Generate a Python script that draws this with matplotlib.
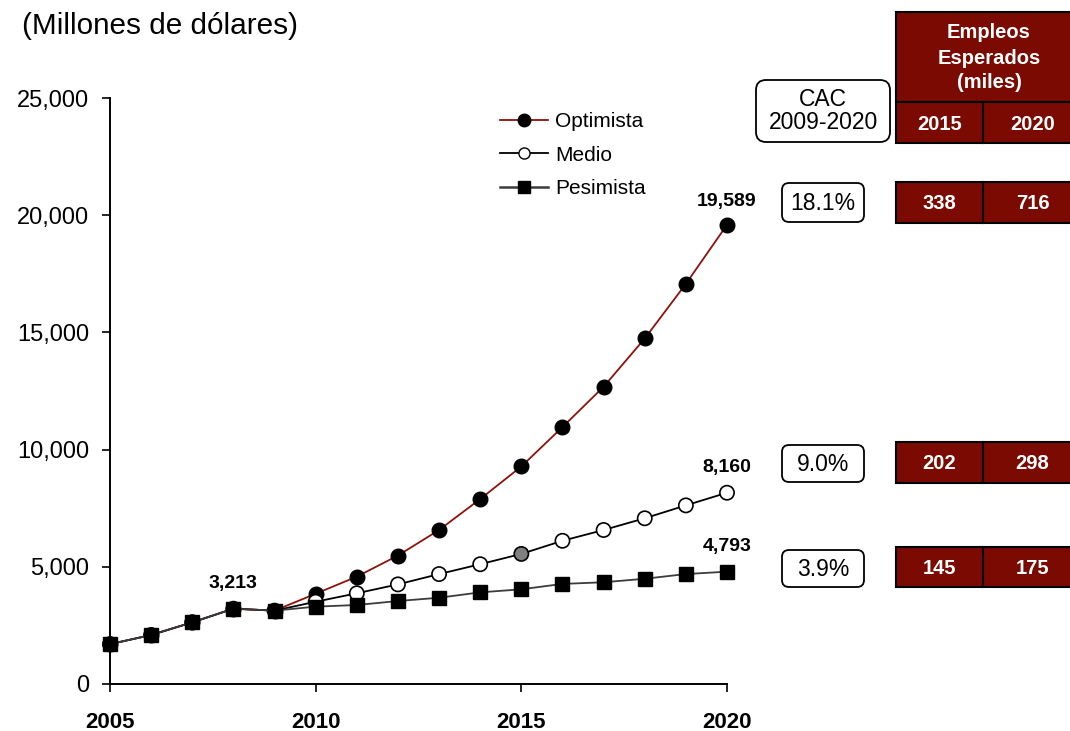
import matplotlib
matplotlib.use("Agg")
import matplotlib.pyplot as plt
from matplotlib.patches import FancyBboxPatch, Rectangle
from matplotlib.lines import Line2D
from matplotlib.transforms import Affine2D
from matplotlib.ticker import FuncFormatter

plt.rcParams['font.family'] = ['Liberation Sans', 'DejaVu Sans']

# --- data -------------------------------------------------------------
years = list(range(2005, 2021))
historico = [1700, 2090, 2630, 3213, 3130]          # 2005-2009, shared by all scenarios
optimista = [3850, 4580, 5480, 6570, 7890, 9280, 10960, 12680, 14740, 17070, 19589]
medio = [3510, 3870, 4250, 4690, 5110, 5550, 6110, 6570, 7070, 7620, 8160]
pesimista = [3300, 3370, 3540, 3680, 3910, 4040, 4270, 4340, 4490, 4690, 4793]

series_names = ["Optimista", "Medio", "Pesimista"]
cac = ["18.1%", "9.0%", "3.9%"]
empleos_2015 = [338, 202, 145]
empleos_2020 = [716, 298, 175]
table_years = ["2015", "2020"]

subtitle = "(Millones de dólares)"
y_ticks = [0, 5000, 10000, 15000, 20000, 25000]
x_ticks = [2005, 2010, 2015, 2020]

# --- styles -----------------------------------------------------------
RED_LINE = "#8e120a"
GRAY_LINE = "#3c3c3c"
TABLE_RED = "#7a0a02"

W, H = 1070, 731
fig = plt.figure(figsize=(W / 100, H / 100), dpi=100)
# pixel coordinates measured from the top-left corner
px = Affine2D().scale(1 / 100, -1 / 100).translate(0, H / 100) + fig.dpi_scale_trans

ax = fig.add_axes([110 / W, 1 - 684 / H, (727 - 110) / W, (684 - 98) / H])

opt_full = historico + optimista
med_full = historico + medio
pes_full = historico + pesimista

ax.plot(years, opt_full, color=RED_LINE, lw=1.3, marker="o", ms=10.5,
        mfc="black", mec="black", clip_on=False, zorder=3)
med_face = ["white"] * len(years)
med_face[years.index(2015)] = "#808080"
ax.plot(years, med_full, color="black", lw=1.3, zorder=3, clip_on=False)
ax.scatter(years, med_full, s=105, c=med_face, edgecolors="black",
           linewidths=1.2, zorder=4, clip_on=False)
ax.plot(years, pes_full, color=GRAY_LINE, lw=1.3, marker="s", ms=10,
        mfc="black", mec="black", clip_on=False, zorder=5)

# value labels
lab_kw = dict(ha="center", va="center", fontsize=14, fontweight="bold",
              textcoords="offset points")
ax.annotate(f"{historico[3]:,}", (2008, historico[3]), xytext=(0, 18), **lab_kw)
ax.annotate(f"{optimista[-1]:,}", (2020, optimista[-1]), xytext=(0, 17), **lab_kw)
ax.annotate(f"{medio[-1]:,}", (2020, medio[-1]), xytext=(0, 18), **lab_kw)
ax.annotate(f"{pesimista[-1]:,}", (2020, pesimista[-1]), xytext=(0, 18), **lab_kw)

ax.set_xlim(2005, 2020)
ax.set_ylim(0, 25000)
ax.set_xticks(x_ticks)
ax.set_yticks(y_ticks)
ax.yaxis.set_major_formatter(FuncFormatter(lambda v, p: f"{int(v):,}"))
for s in ("top", "right"):
    ax.spines[s].set_visible(False)
for s in ("left", "bottom"):
    ax.spines[s].set_linewidth(1.4)
ax.tick_params(axis="y", length=6, width=1.2, labelsize=17, pad=9)
ax.tick_params(axis="x", length=6, width=1.2, labelsize=16, pad=14)
for t in ax.get_xticklabels():
    t.set_fontweight("bold")

# legend
handles = [
    Line2D([], [], color=RED_LINE, lw=1.3, marker="o", ms=9, mfc="black", mec="black"),
    Line2D([], [], color="black", lw=1.3, marker="o", ms=8, mfc="white", mec="black"),
    Line2D([], [], color=GRAY_LINE, lw=1.8, marker="s", ms=9, mfc="black", mec="black"),
]
ax.legend(handles, series_names, loc="upper left",
          bbox_to_anchor=((500 - 110) / 617, (684 - 112) / 586),
          frameon=False, fontsize=15, handlelength=2.3, handletextpad=0.34,
          labelspacing=0.7, borderaxespad=0, borderpad=0)

# subtitle
fig.text(22, 26, subtitle, transform=px, fontsize=21.4, ha="left", va="center")

# CAC boxes
def rbox(x0, y0, x1, y1, r):
    p = FancyBboxPatch((x0, y0), x1 - x0, y1 - y0,
                       boxstyle=f"round,pad=0,rounding_size={r}",
                       transform=px, fc="white", ec="black", lw=1.3)
    fig.patches.append(p)

rbox(756, 80, 890, 142, 10)
fig.text(823, 111, "CAC\n2009-2020", transform=px, ha="center", va="center",
         fontsize=16.5, linespacing=0.95)
cac_rows = [(183, 222), (445, 482), (550, 587)]
for (y0, y1), val in zip(cac_rows, cac):
    rbox(782, y0, 864, y1, 7)
    fig.text(823, (y0 + y1) / 2 + 1, val, transform=px, ha="center", va="center",
             fontsize=16.5)

# employment table
def rect(x0, y0, x1, y1):
    fig.patches.append(Rectangle((x0, y0), x1 - x0, y1 - y0, transform=px,
                                 fc=TABLE_RED, ec="black", lw=1.5))

def vline(x, y0, y1):
    fig.lines.append(Line2D([x, x], [y0, y1], transform=px, color="black", lw=1.5))

XL, XM, XR = 896, 983, 1082
rect(XL, 12, XR, 102)
rect(XL, 102, XR, 143)
vline(XM, 102, 143)
fig.text((XL + XR) / 2, 58, "Empleos\nEsperados\n(miles)", transform=px, ha="center",
         va="center", fontsize=14.5, fontweight="bold", color="white", linespacing=1.4)
for xc, lab in zip([(XL + XM) / 2, (XM + XR) / 2], table_years):
    fig.text(xc, 124, lab, transform=px, ha="center", va="center", fontsize=14.5,
             fontweight="bold", color="white")

table_rows = [(182, 223), (442, 483), (547, 587)]
for (y0, y1), a, b in zip(table_rows, empleos_2015, empleos_2020):
    rect(XL, y0, XR, y1)
    vline(XM, y0, y1)
    fig.text((XL + XM) / 2, (y0 + y1) / 2 + 1, f"{a}", transform=px, ha="center",
             va="center", fontsize=14.5, fontweight="bold", color="white")
    fig.text((XM + XR) / 2, (y0 + y1) / 2 + 1, f"{b}", transform=px, ha="center",
             va="center", fontsize=14.5, fontweight="bold", color="white")

fig.savefig("out.png", dpi=100)
